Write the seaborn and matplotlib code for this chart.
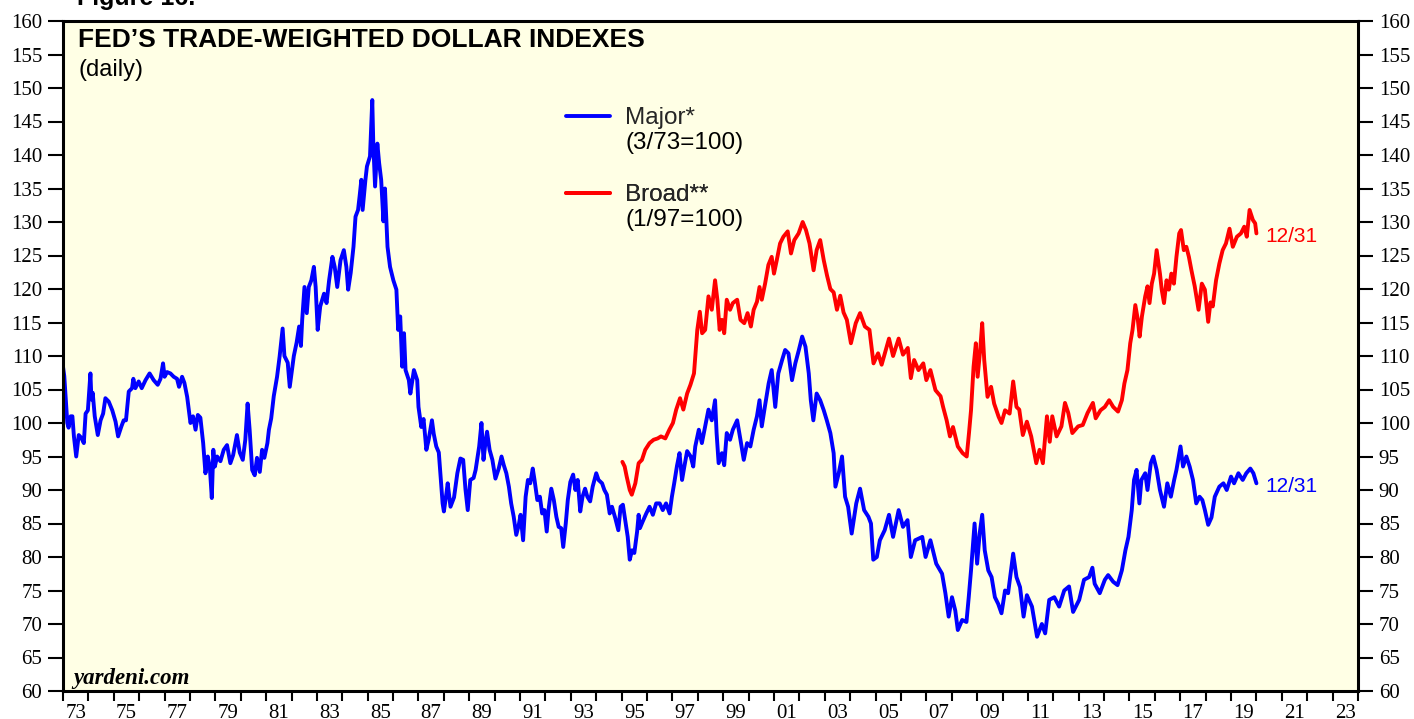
import matplotlib
matplotlib.use("Agg")
import matplotlib.pyplot as plt
from matplotlib.lines import Line2D
from matplotlib.ticker import FixedLocator, NullFormatter, FixedFormatter
import pandas as pd
import seaborn as sns

# Major currencies index (3/73=100), decimal years
major_t = [
    1973.00, 1973.05, 1973.12, 1973.17, 1973.22, 1973.30, 1973.37, 1973.43, 1973.52, 1973.62,
    1973.72, 1973.82, 1973.89, 1973.98, 1974.08, 1974.12, 1974.17, 1974.25, 1974.37, 1974.48,
    1974.58, 1974.67, 1974.80, 1974.94, 1975.07, 1975.17, 1975.30, 1975.39, 1975.48, 1975.59,
    1975.72, 1975.77, 1975.85, 1975.98, 1976.10, 1976.25, 1976.41, 1976.57, 1976.73, 1976.84,
    1976.94, 1977.00, 1977.10, 1977.23, 1977.36, 1977.49, 1977.57, 1977.69, 1977.78, 1977.89,
    1978.02, 1978.12, 1978.22, 1978.31, 1978.41, 1978.52, 1978.61, 1978.70, 1978.78, 1978.86,
    1978.92, 1978.98, 1979.07, 1979.20, 1979.33, 1979.46, 1979.59, 1979.70, 1979.85, 1979.96,
    1980.08, 1980.18, 1980.27, 1980.35, 1980.45, 1980.55, 1980.64, 1980.75, 1980.84, 1980.93,
    1981.05, 1981.11, 1981.20, 1981.30, 1981.43, 1981.53, 1981.65, 1981.72, 1981.85, 1981.93,
    1982.09, 1982.20, 1982.30, 1982.37, 1982.42, 1982.51, 1982.60, 1982.68, 1982.78, 1982.88,
    1982.95, 1983.03, 1983.13, 1983.28, 1983.38, 1983.48, 1983.61, 1983.70, 1983.80, 1983.93,
    1984.06, 1984.16, 1984.23, 1984.33, 1984.44, 1984.52, 1984.62, 1984.68, 1984.75, 1984.80,
    1984.91, 1984.97, 1985.09, 1985.18, 1985.22, 1985.29, 1985.38, 1985.45, 1985.53, 1985.62,
    1985.68, 1985.78, 1985.88, 1986.01, 1986.13, 1986.20, 1986.28, 1986.36, 1986.43, 1986.49,
    1986.62, 1986.68, 1986.82, 1986.95, 1987.00, 1987.11, 1987.20, 1987.31, 1987.40, 1987.53,
    1987.60, 1987.70, 1987.80, 1987.86, 1987.95, 1988.00, 1988.10, 1988.15, 1988.26, 1988.40,
    1988.53, 1988.65, 1988.76, 1988.85, 1988.94, 1989.04, 1989.17, 1989.25, 1989.39, 1989.48,
    1989.56, 1989.65, 1989.70, 1989.80, 1989.91, 1990.03, 1990.16, 1990.27, 1990.36, 1990.46,
    1990.56, 1990.65, 1990.75, 1990.85, 1990.95, 1991.02, 1991.12, 1991.22, 1991.31, 1991.40,
    1991.50, 1991.57, 1991.68, 1991.78, 1991.87, 1991.96, 1992.05, 1992.12, 1992.23, 1992.33,
    1992.43, 1992.52, 1992.62, 1992.70, 1992.80, 1992.88, 1992.98, 1993.09, 1993.18, 1993.27,
    1993.37, 1993.46, 1993.56, 1993.65, 1993.76, 1993.86, 1994.00, 1994.09, 1994.23, 1994.32,
    1994.42, 1994.53, 1994.62, 1994.75, 1994.87, 1994.96, 1995.05, 1995.15, 1995.24, 1995.32,
    1995.41, 1995.50, 1995.61, 1995.67, 1995.72, 1995.83, 1995.97, 1996.10, 1996.23, 1996.36,
    1996.50, 1996.62, 1996.75, 1996.89, 1996.98, 1997.07, 1997.18, 1997.28, 1997.38, 1997.47,
    1997.58, 1997.72, 1997.82, 1997.90, 1998.04, 1998.16, 1998.29, 1998.42, 1998.55, 1998.68,
    1998.74, 1998.82, 1998.95, 1999.04, 1999.14, 1999.27, 1999.38, 1999.55, 1999.68, 1999.81,
    1999.94, 2000.07, 2000.20, 2000.33, 2000.43, 2000.52, 2000.64, 2000.79, 2000.91, 2001.05,
    2001.17, 2001.32, 2001.44, 2001.57, 2001.71, 2001.84, 2001.98, 2002.11, 2002.24, 2002.37,
    2002.45, 2002.55, 2002.68, 2002.82, 2002.96, 2003.08, 2003.22, 2003.35, 2003.42, 2003.55,
    2003.68, 2003.80, 2003.92, 2004.06, 2004.24, 2004.39, 2004.55, 2004.72, 2004.82, 2004.91,
    2005.05, 2005.17, 2005.36, 2005.53, 2005.69, 2005.91, 2006.08, 2006.26, 2006.39, 2006.56,
    2006.84, 2006.97, 2007.16, 2007.39, 2007.62, 2007.75, 2007.88, 2008.01, 2008.14, 2008.24,
    2008.41, 2008.58, 2008.67, 2008.76, 2008.90, 2009.00, 2009.10, 2009.20, 2009.30, 2009.44,
    2009.57, 2009.70, 2009.83, 2009.96, 2010.10, 2010.22, 2010.42, 2010.55, 2010.69, 2010.83,
    2010.96, 2011.16, 2011.36, 2011.55, 2011.68, 2011.84, 2012.04, 2012.23, 2012.43, 2012.62,
    2012.78, 2013.02, 2013.21, 2013.41, 2013.54, 2013.63, 2013.83, 2014.03, 2014.16, 2014.36,
    2014.53, 2014.70, 2014.84, 2014.96, 2015.09, 2015.18, 2015.28, 2015.39, 2015.47, 2015.62,
    2015.71, 2015.84, 2015.94, 2016.07, 2016.20, 2016.36, 2016.49, 2016.63, 2016.76, 2016.85,
    2017.01, 2017.11, 2017.24, 2017.37, 2017.50, 2017.63, 2017.76, 2017.87, 2017.97, 2018.10,
    2018.23, 2018.36, 2018.54, 2018.70, 2018.83, 2019.00, 2019.12, 2019.29, 2019.46, 2019.60,
    2019.76, 2019.88, 2020.00,
]
major_v = [
    108.4, 107.0, 103.0, 100.0, 99.3, 101.0, 101.0, 98.0, 95.0, 98.2,
    97.8, 97.0, 101.4, 101.9, 107.4, 103.5, 104.5, 101.0, 98.2, 100.4,
    101.4, 103.7, 103.2, 101.9, 100.2, 98.0, 99.5, 100.4, 100.4, 104.7,
    105.2, 106.6, 105.2, 106.2, 105.2, 106.4, 107.4, 106.4, 105.7, 106.6,
    108.9, 106.9, 107.6, 107.4, 106.9, 106.6, 105.4, 106.9, 106.0, 103.9,
    100.0, 101.0, 99.0, 101.2, 100.8, 97.0, 92.5, 95.0, 93.5, 88.8,
    96.0, 93.5, 95.0, 94.3, 96.0, 96.7, 94.0, 95.2, 98.2, 95.6,
    94.5, 97.5, 102.9, 99.0, 93.0, 92.2, 94.8, 92.7, 96.0, 94.8,
    97.0, 99.0, 100.7, 104.0, 106.9, 109.9, 114.1, 110.0, 109.0, 105.4,
    110.0, 112.0, 114.4, 111.5, 115.4, 120.3, 116.4, 120.3, 121.3, 123.3,
    120.3, 113.9, 117.4, 119.3, 117.9, 121.3, 124.8, 123.3, 120.3, 124.3,
    125.8, 123.3, 119.9, 122.4, 126.3, 130.8, 131.8, 133.8, 136.3, 131.8,
    136.3, 138.3, 139.8, 148.2, 141.7, 135.3, 141.7, 138.8, 136.3, 130.1,
    135.0, 126.3, 123.3, 121.3, 119.9, 113.9, 115.9, 108.4, 113.4, 107.9,
    106.4, 104.4, 107.9, 106.4, 102.4, 99.4, 100.6, 96.0, 97.5, 100.4,
    98.4, 96.5, 95.6, 92.5, 88.0, 86.8, 89.5, 91.0, 87.5, 88.9,
    92.5, 94.7, 94.5, 90.1, 87.0, 91.5, 91.8, 93.0, 96.5, 100.0,
    94.5, 97.5, 98.7, 96.0, 94.5, 91.7, 93.2, 95.0, 93.7, 92.5,
    90.5, 88.0, 86.0, 83.3, 84.8, 86.3, 82.5, 89.0, 91.5, 91.0,
    93.2, 91.5, 88.5, 89.0, 86.5, 87.0, 83.8, 87.0, 90.2, 88.5,
    86.0, 84.5, 84.3, 81.5, 85.0, 88.5, 91.2, 92.3, 90.0, 91.5,
    86.8, 89.0, 90.2, 89.0, 88.3, 90.5, 92.5, 91.5, 91.0, 90.0,
    89.3, 86.5, 87.5, 85.8, 84.0, 87.5, 87.8, 85.3, 83.0, 79.6,
    81.0, 80.6, 83.8, 86.3, 84.3, 85.3, 86.5, 87.5, 86.3, 88.0,
    88.0, 87.0, 88.0, 86.5, 89.0, 91.0, 93.6, 95.5, 91.5, 93.5,
    95.8, 95.0, 93.5, 96.5, 99.0, 97.0, 99.5, 102.0, 100.4, 103.4,
    98.5, 94.0, 95.5, 93.7, 98.5, 97.5, 99.0, 100.4, 97.5, 94.5,
    97.0, 96.5, 99.0, 101.0, 103.4, 99.5, 102.4, 105.9, 107.9, 102.4,
    107.4, 109.4, 110.9, 110.4, 106.4, 108.9, 110.9, 112.9, 111.4, 107.4,
    103.4, 100.4, 104.4, 103.4, 101.9, 100.4, 98.5, 95.5, 90.5, 92.5,
    95.0, 89.0, 87.5, 83.5, 88.0, 90.2, 87.0, 86.0, 85.0, 79.6,
    80.0, 82.5, 84.0, 86.3, 83.0, 87.0, 84.5, 85.5, 80.0, 82.5,
    83.0, 80.0, 82.5, 79.0, 77.5, 74.6, 71.1, 74.0, 72.0, 69.1,
    70.6, 70.3, 74.0, 78.0, 85.0, 79.0, 83.5, 86.3, 81.0, 78.0,
    77.0, 74.0, 73.0, 71.6, 75.0, 74.6, 80.5, 77.0, 75.5, 71.1,
    74.3, 72.6, 68.1, 70.0, 68.6, 73.6, 74.0, 72.6, 75.0, 75.6,
    71.8, 73.6, 76.6, 77.0, 78.4, 76.0, 74.6, 76.6, 77.3, 76.3,
    75.8, 78.0, 81.0, 83.0, 87.0, 91.5, 93.0, 88.0, 91.5, 92.5,
    90.0, 94.0, 95.0, 93.0, 90.0, 87.5, 91.0, 89.0, 91.5, 93.0,
    96.5, 93.5, 95.0, 93.5, 91.5, 88.0, 89.0, 88.5, 87.0, 84.8,
    85.9, 89.0, 90.5, 91.0, 90.0, 92.0, 91.0, 92.5, 91.5, 92.5,
    93.2, 92.5, 91.0,
]

# Broad index (1/97=100), decimal years
broad_t = [
    1995.03, 1995.12, 1995.20, 1995.32, 1995.40, 1995.54, 1995.67, 1995.80, 1995.93, 1996.10,
    1996.26, 1996.42, 1996.55, 1996.72, 1996.88, 1997.02, 1997.15, 1997.30, 1997.43, 1997.58,
    1997.71, 1997.85, 1997.98, 1998.08, 1998.17, 1998.29, 1998.42, 1998.55, 1998.68, 1998.77,
    1998.86, 1998.95, 1999.04, 1999.14, 1999.27, 1999.38, 1999.55, 1999.68, 1999.83, 1999.96,
    2000.09, 2000.20, 2000.33, 2000.43, 2000.52, 2000.65, 2000.78, 2000.91, 2001.00, 2001.11,
    2001.24, 2001.37, 2001.54, 2001.67, 2001.80, 2001.97, 2002.13, 2002.26, 2002.40, 2002.56,
    2002.68, 2002.82, 2002.96, 2003.09, 2003.22, 2003.35, 2003.48, 2003.61, 2003.74, 2003.87,
    2004.03, 2004.22, 2004.39, 2004.58, 2004.76, 2004.92, 2005.10, 2005.24, 2005.41, 2005.53,
    2005.69, 2005.91, 2006.08, 2006.27, 2006.39, 2006.52, 2006.69, 2006.88, 2007.00, 2007.16,
    2007.36, 2007.56, 2007.66, 2007.80, 2007.93, 2008.05, 2008.24, 2008.43, 2008.59, 2008.68,
    2008.76, 2008.86, 2008.95, 2009.02, 2009.12, 2009.20, 2009.28, 2009.41, 2009.55, 2009.67,
    2009.85, 2009.96, 2010.10, 2010.28, 2010.42, 2010.55, 2010.66, 2010.80, 2010.96, 2011.13,
    2011.33, 2011.46, 2011.59, 2011.75, 2011.86, 2011.96, 2012.13, 2012.32, 2012.46, 2012.59,
    2012.75, 2012.98, 2013.16, 2013.35, 2013.56, 2013.67, 2013.86, 2014.03, 2014.20, 2014.36,
    2014.55, 2014.70, 2014.80, 2014.92, 2015.03, 2015.12, 2015.23, 2015.33, 2015.40, 2015.49,
    2015.62, 2015.71, 2015.79, 2015.88, 2015.97, 2016.07, 2016.20, 2016.27, 2016.36, 2016.46,
    2016.55, 2016.65, 2016.75, 2016.85, 2016.96, 2017.03, 2017.14, 2017.24, 2017.34, 2017.44,
    2017.57, 2017.72, 2017.85, 2017.97, 2018.10, 2018.19, 2018.28, 2018.41, 2018.54, 2018.67,
    2018.80, 2018.94, 2019.07, 2019.23, 2019.39, 2019.52, 2019.62, 2019.73, 2019.86, 2019.95,
    2020.00,
]
broad_v = [
    94.2, 93.5, 92.0, 90.0, 89.3, 91.0, 94.0, 94.5, 96.0, 97.0,
    97.5, 97.7, 98.0, 97.7, 99.0, 100.0, 102.0, 103.7, 102.0, 104.4,
    105.7, 107.4, 113.9, 116.6, 113.4, 113.9, 118.9, 116.9, 121.3, 118.4,
    113.9, 115.4, 113.4, 118.4, 116.9, 117.9, 118.4, 115.4, 114.9, 116.4,
    114.4, 116.9, 118.1, 120.3, 118.4, 120.8, 123.6, 124.8, 122.3, 124.3,
    126.8, 127.8, 128.6, 125.3, 127.3, 128.3, 130.0, 128.8, 126.8, 122.8,
    125.8, 127.3, 124.3, 122.0, 120.0, 119.5, 116.9, 119.0, 116.5, 115.4,
    111.9, 114.9, 116.4, 114.4, 113.9, 108.9, 110.4, 108.7, 111.0, 112.6,
    110.0, 112.6, 110.2, 111.2, 106.7, 109.4, 107.9, 108.9, 106.4, 107.9,
    104.9, 104.0, 102.4, 100.4, 98.0, 99.4, 96.5, 95.5, 95.0, 98.5,
    101.9, 108.4, 111.9, 106.9, 110.9, 114.9, 109.4, 103.9, 105.4, 102.9,
    100.9, 100.0, 101.9, 101.4, 106.2, 102.4, 102.0, 98.2, 100.2, 98.0,
    94.0, 96.0, 94.0, 101.0, 97.2, 101.0, 98.0, 99.5, 103.0, 101.5,
    98.5, 99.5, 99.7, 101.5, 103.0, 100.7, 101.9, 102.4, 103.4, 102.4,
    101.7, 103.4, 105.9, 107.9, 111.9, 113.9, 117.6, 115.4, 112.9, 115.9,
    118.9, 120.4, 117.9, 120.8, 122.3, 125.8, 122.3, 119.9, 117.9, 121.3,
    119.9, 122.3, 120.8, 124.8, 128.3, 128.8, 125.8, 126.3, 124.8, 122.8,
    120.4, 116.9, 120.8, 119.9, 115.1, 118.0, 117.4, 121.3, 123.8, 125.8,
    126.8, 129.0, 126.3, 127.8, 128.3, 129.3, 127.8, 131.8, 130.3, 129.8,
    128.3,
]

series_names = ["Major", "Broad"]
series_colors = {"Major": "#0000FF", "Broad": "#FF0000"}
legend_labels = ["Major*", "Broad**"]
legend_bases = ["(3/73=100)", "(1/97=100)"]
end_label = "12/31"

year_ticks = list(range(1973, 2025))
label_years = list(range(1973, 2024, 2))
y_ticks = list(range(60, 161, 5))

sns.set_style("ticks")
plt.rcParams["font.family"] = ["Liberation Sans", "DejaVu Sans"]
plt.rcParams["axes.edgecolor"] = "black"

fig = plt.figure(figsize=(14.14, 7.19), dpi=100)
ax = fig.add_axes([63 / 1414, 28 / 719, 1295 / 1414, 670 / 719])
ax.set_facecolor("#FFFFE5")

frame = pd.concat([
    pd.DataFrame({"date": major_t, "value": major_v, "series": "Major"}),
    pd.DataFrame({"date": broad_t, "value": broad_v, "series": "Broad"}),
], ignore_index=True)

sns.lineplot(data=frame, x="date", y="value", hue="series", hue_order=series_names,
             palette=series_colors, estimator=None, sort=False, linewidth=2.8,
             legend=False, ax=ax)

ax.set_xlim(1973, 2024)
ax.set_ylim(60, 160)
ax.set_xlabel("")
ax.set_ylabel("")

for side in ["left", "right", "top", "bottom"]:
    ax.spines[side].set_visible(True)
    ax.spines[side].set_linewidth(2.2)
    ax.spines[side].set_color("black")

# y axis: ticks and labels on both sides
ax.set_yticks(y_ticks)
ax.tick_params(axis="y", which="major", direction="out", length=11, width=1.5,
               left=True, right=True, labelleft=True, labelright=True,
               labelsize=15, pad=4, labelfontfamily="Liberation Serif", colors="black")

# x axis: a tick at every year boundary, labels centred on odd years
ax.xaxis.set_major_locator(FixedLocator(year_ticks))
ax.xaxis.set_major_formatter(NullFormatter())
ax.xaxis.set_minor_locator(FixedLocator([y + 0.5 for y in label_years]))
ax.xaxis.set_minor_formatter(FixedFormatter([f"{y % 100:02d}" for y in label_years]))
ax.tick_params(axis="x", which="major", direction="out", length=7.5, width=1.5, colors="black")
ax.tick_params(axis="x", which="minor", length=0, pad=9, labelsize=15,
               labelfontfamily="Liberation Serif", colors="black")

# titles
ax.text(0.0116, 0.961, "FED’S TRADE-WEIGHTED DOLLAR INDEXES", transform=ax.transAxes,
        fontsize=19, fontweight="bold", va="baseline", ha="left", color="black")
ax.text(0.0116, 0.918, "(daily)", transform=ax.transAxes,
        fontsize=17, va="baseline", ha="left", color="black")
fig.text(77 / 1414, 1 - 5 / 719, "Figure 16.", fontsize=18, fontweight="bold",
         va="baseline", ha="left", color="black")

# legend: one keyed entry per series, base period written underneath
leg_fs = 17.5
leg_fs_px = leg_fs * 100 / 72
rows = [(0.855, 0.818), (0.740, 0.703)]
for name, label, base, (y_top, y_base) in zip(series_names, legend_labels, legend_bases, rows):
    handle = Line2D([], [], color=series_colors[name], linewidth=2.8)
    leg = ax.legend([handle], [label], loc="center left", bbox_to_anchor=(0.3884, y_top),
                    frameon=False, fontsize=leg_fs, handlelength=44 / leg_fs_px,
                    handletextpad=15 / leg_fs_px, borderpad=0, borderaxespad=0)
    ax.add_artist(leg)
    ax.text(0.434, y_base, base, transform=ax.transAxes, fontsize=leg_fs,
            va="center", ha="left", color="black")

# end-of-series date labels
ax.annotate(end_label, xy=(major_t[-1], major_v[-1]), xytext=(6.5, -2), textcoords="offset points",
            va="center", ha="left", fontsize=15, color=series_colors["Major"])
ax.annotate(end_label, xy=(broad_t[-1], broad_v[-1]), xytext=(6.5, -2), textcoords="offset points",
            va="center", ha="left", fontsize=15, color=series_colors["Broad"])

ax.text(0.0077, 0.0104, "yardeni.com", transform=ax.transAxes, fontsize=16.5,
        fontweight="bold", fontstyle="italic", family="Liberation Serif",
        va="baseline", ha="left", color="black")

fig.savefig("out.png", dpi=100, facecolor="white")
